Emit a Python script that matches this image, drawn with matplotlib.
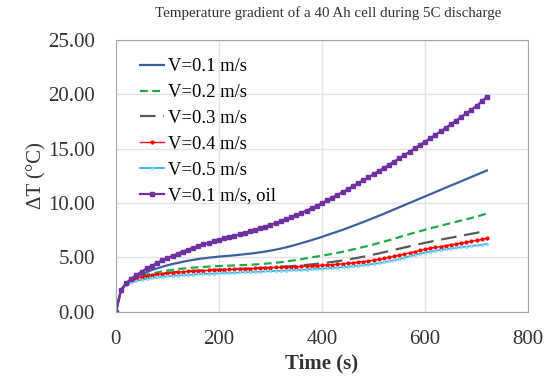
import matplotlib.pyplot as plt
import numpy as np

plt.rcParams['font.family'] = ['Liberation Serif', 'DejaVu Serif']

time_s = list(range(0, 721, 10))

v01 = [0.00, 2.00, 2.60, 2.95, 3.20, 3.45, 3.65, 3.85, 4.00, 4.15,
       4.28, 4.40, 4.50, 4.60, 4.70, 4.78, 4.86, 4.92, 4.98, 5.03,
       5.08, 5.12, 5.16, 5.20, 5.25, 5.30, 5.35, 5.41, 5.48, 5.55,
       5.63, 5.72, 5.82, 5.93, 6.05, 6.18, 6.32, 6.46, 6.60, 6.75,
       6.90, 7.06, 7.22, 7.38, 7.55, 7.72, 7.90, 8.08, 8.26, 8.45,
       8.64, 8.83, 9.02, 9.22, 9.42, 9.62, 9.82, 10.02, 10.22, 10.42,
       10.62, 10.82, 11.02, 11.22, 11.42, 11.62, 11.81, 12.01, 12.21, 12.41,
       12.61, 12.81, 13.00]
v02 = [0.00, 2.00, 2.60, 2.95, 3.15, 3.30, 3.42, 3.52, 3.62, 3.72,
       3.80, 3.87, 3.93, 3.98, 4.03, 4.07, 4.10, 4.13, 4.16, 4.19,
       4.21, 4.23, 4.25, 4.27, 4.29, 4.31, 4.33, 4.36, 4.39, 4.43,
       4.47, 4.52, 4.57, 4.63, 4.70, 4.77, 4.85, 4.93, 5.01, 5.09,
       5.17, 5.25, 5.34, 5.43, 5.53, 5.63, 5.74, 5.85, 5.96, 6.08,
       6.20, 6.33, 6.46, 6.59, 6.73, 6.87, 7.01, 7.15, 7.29, 7.42,
       7.55, 7.68, 7.80, 7.92, 8.04, 8.16, 8.28, 8.40, 8.52, 8.64,
       8.76, 8.90, 9.05]
v03 = [0.00, 2.00, 2.55, 2.85, 3.05, 3.20, 3.30, 3.38, 3.45, 3.52,
       3.58, 3.63, 3.67, 3.71, 3.74, 3.77, 3.80, 3.82, 3.84, 3.86,
       3.88, 3.90, 3.92, 3.94, 3.96, 3.98, 4.00, 4.02, 4.04, 4.06,
       4.08, 4.11, 4.14, 4.17, 4.20, 4.24, 4.28, 4.32, 4.37, 4.42,
       4.47, 4.53, 4.59, 4.66, 4.73, 4.81, 4.89, 4.98, 5.07, 5.17,
       5.27, 5.37, 5.48, 5.59, 5.70, 5.81, 5.92, 6.03, 6.14, 6.25,
       6.35, 6.45, 6.55, 6.64, 6.73, 6.82, 6.91, 7.00, 7.09, 7.18,
       7.27, 7.37, 7.48]
v04 = [0.00, 2.00, 2.55, 2.85, 3.05, 3.20, 3.30, 3.38, 3.45, 3.51,
       3.56, 3.61, 3.65, 3.69, 3.72, 3.75, 3.78, 3.80, 3.82, 3.84,
       3.86, 3.88, 3.90, 3.92, 3.94, 3.96, 3.98, 4.00, 4.02, 4.04,
       4.06, 4.08, 4.10, 4.12, 4.14, 4.16, 4.18, 4.20, 4.22, 4.25,
       4.28, 4.31, 4.34, 4.38, 4.42, 4.46, 4.51, 4.56, 4.62, 4.68,
       4.75, 4.83, 4.92, 5.01, 5.11, 5.21, 5.32, 5.43, 5.54, 5.65,
       5.75, 5.84, 5.93, 6.01, 6.09, 6.17, 6.25, 6.33, 6.41, 6.49,
       6.57, 6.66, 6.76]
v05 = [0.00, 1.95, 2.45, 2.70, 2.85, 2.95, 3.03, 3.10, 3.16, 3.21,
       3.26, 3.30, 3.34, 3.37, 3.40, 3.43, 3.46, 3.48, 3.50, 3.52,
       3.54, 3.56, 3.58, 3.60, 3.62, 3.64, 3.66, 3.68, 3.70, 3.72,
       3.74, 3.76, 3.78, 3.80, 3.82, 3.84, 3.86, 3.89, 3.92, 3.95,
       3.98, 4.01, 4.04, 4.07, 4.11, 4.15, 4.19, 4.24, 4.29, 4.35,
       4.41, 4.48, 4.56, 4.65, 4.75, 4.86, 4.98, 5.10, 5.22, 5.34,
       5.45, 5.54, 5.62, 5.69, 5.76, 5.82, 5.88, 5.94, 6.00, 6.06,
       6.12, 6.18, 6.25]
v01_oil = [0.00, 2.00, 2.65, 3.05, 3.40, 3.70, 4.00, 4.25, 4.50, 4.75,
           4.95, 5.15, 5.35, 5.55, 5.72, 5.90, 6.05, 6.20, 6.35, 6.48,
           6.62, 6.75, 6.88, 7.00, 7.13, 7.26, 7.40, 7.55, 7.70, 7.85,
           8.00, 8.17, 8.34, 8.52, 8.70, 8.90, 9.10, 9.32, 9.54, 9.76,
           10.00, 10.25, 10.50, 10.76, 11.02, 11.28, 11.55, 11.82, 12.10, 12.38,
           12.66, 12.95, 13.24, 13.53, 13.82, 14.12, 14.42, 14.72, 15.03, 15.34,
           15.65, 15.96, 16.28, 16.60, 16.92, 17.25, 17.58, 17.92, 18.26, 18.60,
           18.95, 19.35, 19.80]

labels = ["V=0.1 m/s", "V=0.2 m/s", "V=0.3 m/s", "V=0.4 m/s", "V=0.5 m/s", "V=0.1 m/s, oil"]

fig = plt.figure(figsize=(5.49, 3.78), dpi=100)
ax = fig.add_axes([0.211, 0.175, 0.751, 0.719])

ax.plot(time_s, v01, color="#3D5F9E", lw=1.6, label=labels[0])
ax.plot(time_s, v02, color="#1EAA4A", lw=1.6, ls=(0, (3.5, 2)), label=labels[1])
ax.plot(time_s, v03, color="#595959", lw=1.6, ls=(0, (7, 3.5)), label=labels[2])
ax.plot(time_s, v04, color="#FF0000", lw=1.0, marker="o", ms=2.0, label=labels[3])
ax.plot(time_s, v05, color="#1AAEEF", lw=1.2, marker="*", ms=3.0, markeredgewidth=0.3,
        markerfacecolor="#8FD6F7", markeredgecolor="#8FD6F7", label=labels[4])
ax.plot(time_s, v01_oil, color="#7030A0", lw=1.6, marker="s", ms=2.3, label=labels[5])

ax.set_xlim(0, 800)
ax.set_ylim(0, 25)
ax.set_xticks(np.arange(0, 801, 200))
ax.set_yticks(np.arange(0, 25.1, 5))
ax.set_yticklabels(["%.2f" % v for v in np.arange(0, 25.1, 5)])
ax.tick_params(length=0, labelsize=15, colors="#333333")
ax.tick_params(axis="y", pad=15)
ax.tick_params(axis="x", pad=13)
ax.grid(True, color="#E3E3E3", lw=1.0)
ax.set_axisbelow(True)
for s in ax.spines.values():
    s.set_color("#A6A6A6")

ax.set_xlabel("Time (s)", fontsize=15, fontweight="bold", color="#333333", labelpad=3)
ax.set_ylabel("ΔT (°C)", fontsize=15, color="#333333", labelpad=1)
fig.text(0.598, 0.965, "Temperature gradient of a 40 Ah cell during 5C discharge",
         ha="center", va="center", fontsize=10.8, color="#333333")

ax.legend(loc="upper left", bbox_to_anchor=(0.04, 0.96), frameon=False, fontsize=13.4,
          handlelength=1.3, handletextpad=0.2, labelspacing=0.47, borderaxespad=0)

fig.savefig("out.png", dpi=100)
